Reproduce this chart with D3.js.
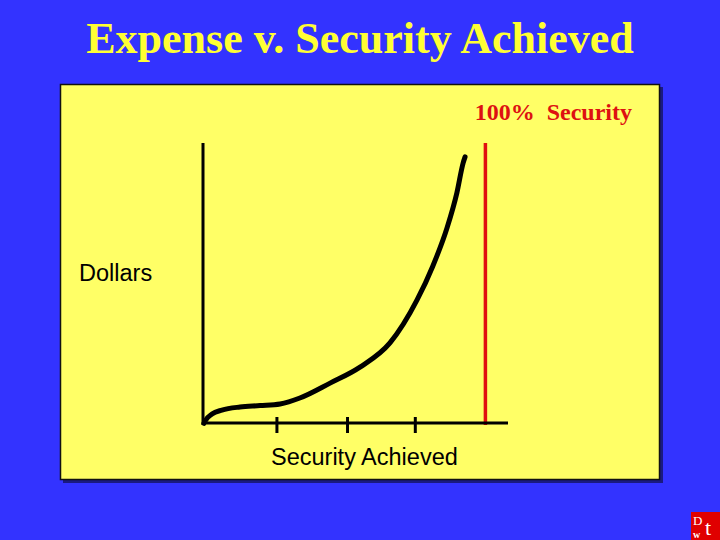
<!DOCTYPE html>
<html><head><meta charset="utf-8">
<script src="https://cdn.jsdelivr.net/npm/d3@7"></script>
<style>html,body{margin:0;padding:0;background:#3333ff;}svg{display:block;}</style>
</head><body>
<svg id="c" width="720" height="540"></svg>
<script>
const title = "Expense v. Security Achieved";
const xAxisLabel = "Security Achieved";
const yAxisLabel = "Dollars";
const limitLabel = "100%  Security";
const limitValue = 100;
const xTicks = [26, 51, 75];
const securityPct = [0.3, 0.7, 3.2, 6.7, 13.1, 20.2, 27.3, 34.3, 45.0, 55.6, 66.2, 75.8, 81.4, 86.4, 89.9, 92.1, 92.8];
const dollars =     [0.6, 1.4, 3.9, 5.3, 6.4, 6.9, 7.5, 9.6, 14.9, 20.6, 29.2, 44.5, 56.6, 70.1, 82.6, 93.2, 95.4];

const svg = d3.select("#c");
svg.append("rect").attr("width",720).attr("height",540).attr("fill","#3333ff");

svg.append("text").attr("x",360).attr("y",53).attr("text-anchor","middle")
  .attr("font-family","'Liberation Serif','Times New Roman',serif").attr("font-weight","bold")
  .attr("font-size",44).attr("fill","#ffff33").text(title);

// panel with shadow
svg.append("rect").attr("x",63).attr("y",87).attr("width",600).attr("height",396).attr("fill","#1a1a80");
svg.append("rect").attr("x",60.5).attr("y",84.5).attr("width",599).attr("height",395)
  .attr("fill","#ffff66").attr("stroke","#111").attr("stroke-width",1.5);

const x = d3.scaleLinear().domain([0,108]).range([203,508]);
const y = d3.scaleLinear().domain([0,100]).range([425,144]);

// limit line
svg.append("line").attr("x1",x(limitValue)).attr("x2",x(limitValue)).attr("y1",y(0)).attr("y2",y(100.4))
  .attr("stroke","#e01010").attr("stroke-width",3.5);

// axes
const xAxis = d3.axisBottom(x).tickValues(xTicks).tickSize(10).tickFormat("");
const gx = svg.append("g").attr("transform",`translate(0,${y(0)-2})`).call(xAxis);
gx.select(".domain").attr("stroke","#000").attr("stroke-width",3).attr("d",`M${x(0)},0H${x(108)}`);
gx.selectAll(".tick line").attr("stroke","#000").attr("stroke-width",3).attr("y1",-6);

const yAxis = d3.axisLeft(y).tickValues([]).tickSizeOuter(0);
const gy = svg.append("g").attr("transform",`translate(${x(0)},0)`).call(yAxis);
gy.select(".domain").attr("stroke","#000").attr("stroke-width",3).attr("d",`M0,${y(100.4)}V${y(0)}`);

// curve
const pts = securityPct.map((v,i)=>[v,dollars[i]]);
svg.append("path").datum(pts)
  .attr("d", d3.line().x(d=>x(d[0])).y(d=>y(d[1])).curve(d3.curveMonotoneX))
  .attr("fill","none").attr("stroke","#000").attr("stroke-width",5)
  .attr("stroke-linecap","round").attr("stroke-linejoin","round");

// labels
svg.append("text").attr("x",632).attr("y",120).attr("text-anchor","end")
  .attr("font-family","'Liberation Serif','Times New Roman',serif").attr("font-weight","bold")
  .attr("font-size",24).attr("fill","#dd1111").style("white-space","pre").text(limitLabel);
svg.append("text").attr("x",79).attr("y",281)
  .attr("font-family","'Liberation Sans',Arial,sans-serif").attr("font-size",23.5).attr("fill","#000").text(yAxisLabel);
svg.append("text").attr("x",271).attr("y",465)
  .attr("font-family","'Liberation Sans',Arial,sans-serif").attr("font-size",23.5).attr("fill","#000").text(xAxisLabel);

// logo
const lg = svg.append("g");
lg.append("rect").attr("x",691).attr("y",512).attr("width",29).attr("height",28).attr("fill","#e00000");
lg.append("text").attr("x",693).attr("y",525).attr("font-family","'Liberation Serif',serif").attr("font-size",13).attr("fill","#fff").text("D");
lg.append("text").attr("x",693).attr("y",538).attr("font-family","'Liberation Serif',serif").attr("font-size",10).attr("font-weight","bold").attr("fill","#fff").text("w");
lg.append("text").attr("x",705).attr("y",535).attr("font-family","'Liberation Serif',serif").attr("font-size",22).attr("fill","#fff").text("t");
</script>
</body></html>
